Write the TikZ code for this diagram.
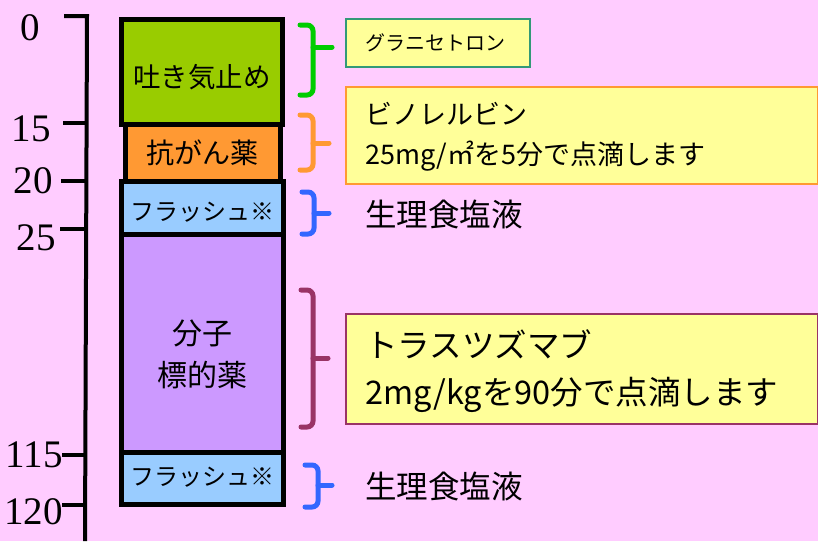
\documentclass[tikz,border=0pt]{standalone}
\usepackage{fontspec}
\setmainfont{Liberation Serif}
\newfontfamily\jp{Noto Sans CJK JP}
\definecolor{bgpink}{HTML}{FFCCFF}
\definecolor{cgreen}{HTML}{99CC00}
\definecolor{corange}{HTML}{FF9933}
\definecolor{cblue}{HTML}{99CCFF}
\definecolor{cpurple}{HTML}{CC99FF}
\definecolor{bgreen}{HTML}{00CC00}
\definecolor{bblue}{HTML}{3366FF}
\definecolor{bpurple}{HTML}{993366}
\definecolor{notefill}{HTML}{FFFF99}
\definecolor{noteteal}{HTML}{339977}
\begin{document}
\begin{tikzpicture}[x=1pt,y=-1pt,
  axisline/.style={line width=4pt},
  ticklab/.style={anchor=east,inner sep=0pt,font=\fontsize{39}{39}\selectfont},
  stepbox/.style={draw=black,line width=4.5pt,anchor=north west,inner sep=0pt},
  steptext/.style={inner sep=0pt,align=center},
  brace/.style={line width=5pt,rounded corners=6pt,line cap=round},
  note/.style={anchor=north west,line width=1.5pt,fill=notefill,inner sep=0pt},
  notetext/.style={anchor=west,inner sep=0pt,align=left},
  plain/.style={anchor=west,inner sep=0pt}
]
\useasboundingbox (0,0) rectangle (818,541);
\fill[bgpink] (0,0) rectangle (818,541);

% axis
\coordinate (atop) at (87,16);
\coordinate (abot) at (85,541);
\coordinate (t0) at (64,16);
\draw[axisline] (t0) -- (atop) -- (abot);
\coordinate (t15a) at (63,123); \coordinate (t15b) at (87,123);
\coordinate (t20a) at (61,181); \coordinate (t20b) at (87,181);
\coordinate (t25a) at (60,229); \coordinate (t25b) at (87,229);
\coordinate (t115a) at (62,455); \coordinate (t115b) at (86,455);
\coordinate (t120a) at (62,505); \coordinate (t120b) at (86,505);
\foreach \t in {15,20,25,115,120} \draw[axisline] (t\t a) -- (t\t b);
\node[ticklab] (l0) at (40,28) {0};
\node[ticklab] (l15) at (51,129) {15};
\node[ticklab] (l20) at (53,181) {20};
\node[ticklab] (l25) at (56,238) {25};
\node[ticklab] (l115) at (63,455) {115};
\node[ticklab] (l120) at (63,512) {120};

% column boxes
\node[stepbox,fill=corange,minimum width=155pt,minimum height=57pt] (anti) at (123,122) {};
\node[stepbox,fill=cgreen,minimum width=161pt,minimum height=105pt] (emet) at (119,17) {};
\node[stepbox,fill=cblue,minimum width=162pt,minimum height=53pt] (fl1) at (119,179) {};
\node[stepbox,fill=cpurple,minimum width=162pt,minimum height=218pt] (mol) at (119,232) {};
\node[stepbox,fill=cblue,minimum width=162pt,minimum height=52pt] (fl2) at (119,450) {};
\node[steptext,font=\jp\fontsize{27.5}{30}\selectfont] (emett) at ([yshift=-5pt]emet.center) {吐き気止め};
\node[steptext,font=\jp\fontsize{28}{30}\selectfont] (antit) at (anti.center) {抗がん薬};
\node[steptext,font=\jp\fontsize{24}{30}\selectfont] (fl1t) at ([yshift=-4pt]fl1.center) {フラッシュ※};
\node[steptext,font=\jp\fontsize{30}{42}\selectfont] (molt) at ([yshift=-11pt]mol.center) {分子\\標的薬};
\node[steptext,font=\jp\fontsize{24}{30}\selectfont] (fl2t) at ([yshift=1pt]fl2.center) {フラッシュ※};

% braces
\draw[brace,bgreen] (300,25) -- (313,25) -- (313,95) -- (300,95);
\draw[brace,bgreen] (313,47) -- (332,47);
\draw[brace,corange] (300,115) -- (313,115) -- (313,170) -- (300,170);
\draw[brace,corange] (313,143) -- (329,143);
\draw[brace,bblue] (302,192) -- (314,192) -- (314,234) -- (302,234);
\draw[brace,bblue] (314,213) -- (329,213);
\draw[brace,bpurple] (301,290) -- (313,290) -- (313,427) -- (301,427);
\draw[brace,bpurple] (313,358) -- (328,358);
\draw[brace,bblue] (305,465) -- (318,465) -- (318,507) -- (305,507);
\draw[brace,bblue] (318,485) -- (332,485);

% notes
\node[note,draw=noteteal,minimum width=184pt,minimum height=48pt] (gran) at (345,18) {};
\node[notetext,font=\jp\fontsize{20}{22}\selectfont] (grant) at (365,43) {グラニセトロン};
\node[note,draw=corange,minimum width=472pt,minimum height=97pt] (vino) at (345,86) {};
\node[notetext,font=\jp\fontsize{27}{40}\selectfont] (vinot) at (365,137) {ビノレルビン\\25mg/㎡を5分で点滴します};
\node[plain,font=\jp\fontsize{31.5}{32}\selectfont] (sal1) at (365,214) {生理食塩液};
\node[note,draw=bpurple,minimum width=472pt,minimum height=110pt] (tras) at (345,313) {};
\node[notetext,font=\jp\fontsize{32.5}{47}\selectfont] (trast) at (365,371) {トラスツズマブ\\2mg/kgを90分で点滴します};
\node[plain,font=\jp\fontsize{31.5}{32}\selectfont] (sal2) at (365,486) {生理食塩液};
\end{tikzpicture}
\end{document}
